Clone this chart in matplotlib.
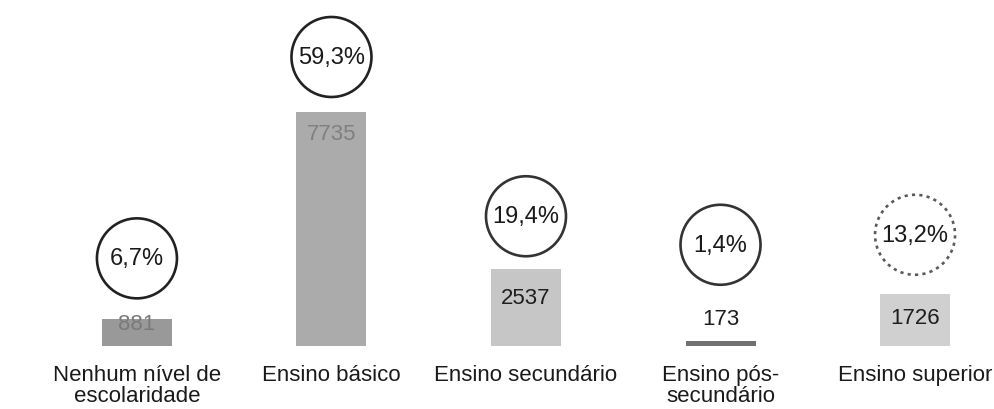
import matplotlib
matplotlib.use('Agg')
import matplotlib.pyplot as plt
from matplotlib.patches import Circle
from matplotlib.transforms import ScaledTranslation

categories = ["Nenhum nível de\nescolaridade", "Ensino básico", "Ensino secundário",
              "Ensino pós-\nsecundário", "Ensino superior"]
counts = [881, 7735, 2537, 173, 1726]
percent_labels = ["6,7%", "59,3%", "19,4%", "1,4%", "13,2%"]

# styling per bar
bar_colors = ["#999999", "#ababab", "#c6c6c6", "#707070", "#d0d0d0"]
count_colors = ["#7a7a7a", "#808080", "#1e1e1e", "#1e1e1e", "#1e1e1e"]
count_offsets = [-4, -22, -28, 22, -24]   # pixels from bar top
circle_offsets = [61, 55, 53, 96, 59]     # pixels from bar top
circle_styles = ["-", "-", "-", "-", (0, (1.2, 1.6))]
circle_edge = ["#222222", "#222222", "#333333", "#333333", "#5a5a5a"]

plt.rcParams['font.family'] = ['Liberation Sans', 'DejaVu Sans']

fig = plt.figure(figsize=(9.95, 4.10), dpi=100)
ax = fig.add_axes([0, 63 / 410, 1, 347 / 410])

x = list(range(len(categories)))
ax.bar(x, counts, width=0.36, color=bar_colors, edgecolor="none")


def shifted(px):
    return ax.transData + ScaledTranslation(0, px / 100, fig.dpi_scale_trans)


for i, v in enumerate(counts):
    ax.text(i, v, str(v), transform=shifted(count_offsets[i]), ha="center", va="center",
            fontsize=16, color=count_colors[i])
    # ring drawn in inches, anchored at the bar top plus an offset
    anchor = fig.dpi_scale_trans + ScaledTranslation(i, v, ax.transData)
    ring = Circle((0, circle_offsets[i] / 100), radius=0.40, transform=anchor,
                  facecolor="white", edgecolor=circle_edge[i], linewidth=1.9,
                  linestyle=circle_styles[i], clip_on=False, zorder=3)
    ax.add_artist(ring)
    ax.text(i, v, percent_labels[i], transform=shifted(circle_offsets[i]),
            ha="center", va="center", fontsize=17, color="#1a1a1a", zorder=5)

ax.set_xlim(-0.704, 4.411)
ax.set_ylim(0, 11470)
ax.set_xticks(x)
ax.set_xticklabels(categories, fontsize=16, color="#1a1a1a", linespacing=1.0)
ax.tick_params(axis="x", length=0, pad=13)
ax.set_yticks([])
for s in ax.spines.values():
    s.set_visible(False)

fig.savefig("out.png", dpi=100)
